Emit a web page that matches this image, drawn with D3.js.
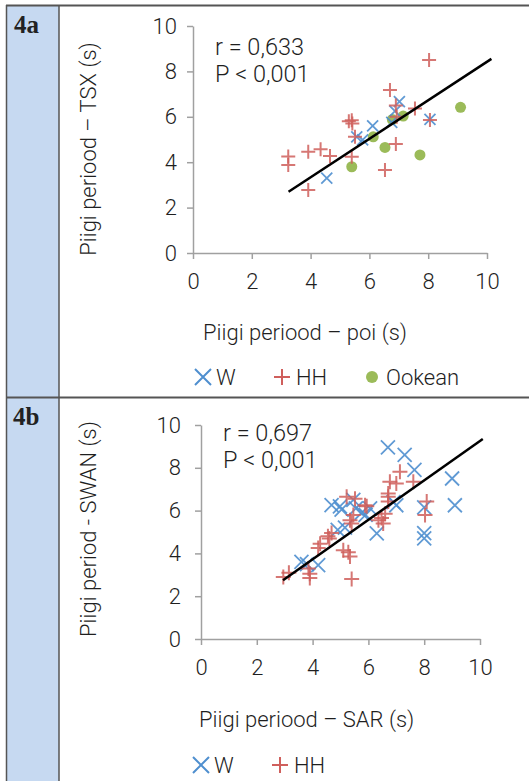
<!DOCTYPE html>
<html lang="et">
<head>
<meta charset="utf-8">
<title>Piigi periood 4a / 4b</title>
<script src="https://cdn.jsdelivr.net/npm/d3@7"></script>
<style>
  body { margin: 0; background: #fff; }
  text { font-family: Roboto, "Noto Sans", sans-serif; font-weight: 300; fill: #1f1f1f; }
  .lbl { font-family: "Liberation Serif", "Times New Roman", serif; font-weight: bold; fill: #222; }
</style>
</head>
<body>
<script>
// ticks on both axes
var ticks = [0, 2, 4, 6, 8, 10];

// 4a: poi vs TSX
var aW = [[4.55, 3.3], [5.57, 5.12], [5.77, 4.98], [6.11, 5.6], [6.76, 5.75],
          [6.87, 6.25], [7.02, 6.67], [8.06, 5.89]];
var aHH = [[3.24, 4.25], [3.24, 3.88], [3.92, 4.46], [3.92, 2.78], [4.34, 4.57],
           [4.66, 4.27], [5.3, 5.8], [5.4, 5.85], [5.42, 5.7], [5.51, 5.12],
           [5.4, 4.24], [6.53, 3.66], [6.7, 7.18], [6.9, 6.5], [6.9, 4.8],
           [6.93, 6.0], [7.55, 6.37], [8.03, 8.5], [8.06, 5.86]];
var aOokean = [[5.4, 3.8], [6.13, 5.12], [6.53, 4.65], [6.78, 5.88], [7.15, 6.03],
               [7.72, 4.32], [9.1, 6.42]];
var aFit = [[3.25, 2.7], [10.15, 8.55]];

// 4b: SAR vs SWAN
var bW = [[3.6, 3.6], [3.8, 3.5], [4.2, 3.45], [4.68, 6.26], [4.9, 5.1],
          [4.98, 6.2], [5.04, 6.05], [5.16, 5.2], [5.46, 6.5], [5.55, 6.1],
          [5.76, 5.9], [5.9, 5.8], [6.06, 6.1], [6.3, 4.94], [6.7, 8.95],
          [6.9, 6.4], [7.0, 6.25], [7.3, 8.6], [7.65, 7.9], [8.0, 6.15],
          [8.0, 4.95], [8.0, 4.7], [9.0, 7.5], [9.1, 6.25]];
var bHH = [[2.95, 2.9], [3.15, 3.1], [3.85, 3.3], [3.9, 3.05], [3.9, 2.85],
           [4.2, 4.25], [4.27, 4.45], [4.55, 4.8], [4.68, 4.95], [4.6, 4.7],
           [5.1, 4.15], [5.28, 4.05], [5.34, 3.85], [5.4, 2.8], [5.22, 6.65],
           [5.52, 6.55], [5.34, 5.55], [5.46, 5.8], [5.4, 5.4], [5.94, 6.2],
           [6.36, 5.55], [6.47, 5.65], [6.53, 5.4], [6.6, 5.85], [6.71, 6.65],
           [6.71, 6.8], [6.71, 6.42], [6.77, 7.35], [7.0, 7.27], [7.13, 7.82],
           [7.61, 7.35], [8.09, 6.42], [8.03, 5.8], [5.88, 6.25]];
var bFit = [[2.94, 2.75], [10.1, 9.35]];

var blue = "#4f8fcf", red = "#cf5f5c", green = "#9bbb59";

var w = 529, h = 781;
var svg = d3.select("body").append("svg").attr("width", w).attr("height", h);

// table frame
svg.append("rect").attr("x", 7).attr("y", 6).attr("width", 52).attr("height", h)
   .attr("fill", "#c6d9f1");
svg.append("line").attr("x1", 6).attr("x2", w).attr("y1", 5.5).attr("y2", 5.5)
   .attr("stroke", "#555").attr("stroke-width", 2);
svg.append("line").attr("x1", 6).attr("x2", w).attr("y1", 397.5).attr("y2", 397.5)
   .attr("stroke", "#555").attr("stroke-width", 2);
svg.append("line").attr("x1", 6.5).attr("x2", 6.5).attr("y1", 5).attr("y2", h)
   .attr("stroke", "#555").attr("stroke-width", 1.5);
svg.append("line").attr("x1", 59).attr("x2", 59).attr("y1", 5).attr("y2", h)
   .attr("stroke", "#555").attr("stroke-width", 1.5);
svg.append("text").attr("class", "lbl").attr("x", 14).attr("y", 33)
   .attr("font-size", "25px").text("4a");
svg.append("text").attr("class", "lbl").attr("x", 13).attr("y", 425)
   .attr("font-size", "25px").text("4b");

function plus(s) { return "M" + (-s) + ",0H" + s + "M0," + (-s) + "V" + s; }
function cross(s) { return "M" + (-s) + "," + (-s) + "L" + s + "," + s + "M" + (-s) + "," + s + "L" + s + "," + (-s); }

function drawPanel(p) {
  var x = d3.scaleLinear().domain([0, 10]).range([p.x0, p.x1]);
  var y = d3.scaleLinear().domain([0, 10]).range([p.y0, p.y1]);
  var g = svg.append("g");

  var xa = g.append("g").attr("transform", "translate(0," + p.y0 + ")")
    .call(d3.axisBottom(x).tickValues(ticks).tickSize(6).tickSizeOuter(0).tickPadding(14));
  var ya = g.append("g").attr("transform", "translate(" + p.x0 + ",0)")
    .call(d3.axisLeft(y).tickValues(ticks).tickSize(6).tickSizeOuter(0).tickPadding(p.ypad));
  [xa, ya].forEach(function(a) {
    a.selectAll("path, line").attr("stroke", "#a0a0a0").attr("stroke-width", 1.5);
    a.selectAll("text").attr("font-size", "22px").attr("font-family", "Roboto")
      .attr("fill", "#1f1f1f");
  });

  g.append("text").attr("x", p.xtx).attr("y", p.xty).attr("font-size", "22px").text(p.xt);
  g.append("text").attr("transform", "translate(" + p.ytx + "," + p.yty + ") rotate(-90)")
    .attr("text-anchor", "middle").attr("font-size", "22px").text(p.yt);

  g.append("text").attr("x", p.rx).attr("y", p.ry).attr("font-size", "23.5px").text(p.r);
  g.append("text").attr("x", p.rx).attr("y", p.ry + 27).attr("font-size", "23.5px").text("P < 0,001");

  if (p.ook) {
    g.selectAll(".ook").data(p.ook).enter().append("circle")
      .attr("cx", function(d) { return x(d[0]); })
      .attr("cy", function(d) { return y(d[1]); })
      .attr("r", 5.5).attr("fill", green);
  }
  g.selectAll(".w").data(p.wpts).enter().append("path")
    .attr("transform", function(d) { return "translate(" + x(d[0]) + "," + y(d[1]) + ")"; })
    .attr("d", cross(p.ms)).attr("fill", "none")
    .attr("stroke", blue).attr("stroke-width", 1.8).attr("opacity", 0.9);
  g.selectAll(".hh").data(p.hh).enter().append("path")
    .attr("transform", function(d) { return "translate(" + x(d[0]) + "," + y(d[1]) + ")"; })
    .attr("d", plus(p.ps))
    .attr("fill", "none").attr("stroke", red).attr("stroke-width", 2).attr("opacity", 0.85);

  g.append("line")
    .attr("x1", x(p.fit[0][0])).attr("y1", y(p.fit[0][1]))
    .attr("x2", x(p.fit[1][0])).attr("y2", y(p.fit[1][1]))
    .attr("stroke", "#000").attr("stroke-width", 2.5);

  // legend
  var ly = p.ly;
  g.append("path").attr("transform", "translate(" + p.lx + "," + ly + ")").attr("d", cross(8))
    .attr("stroke", blue).attr("stroke-width", 2).attr("fill", "none");
  g.append("text").attr("x", p.lx + 13).attr("y", ly + 8).attr("font-size", "22px").text("W");
  g.append("path").attr("transform", "translate(" + (p.lx + 79) + "," + ly + ")").attr("d", plus(8))
    .attr("stroke", red).attr("stroke-width", 2).attr("fill", "none");
  g.append("text").attr("x", p.lx + 93).attr("y", ly + 8).attr("font-size", "22px").text("HH");
  if (p.ook) {
    g.append("circle").attr("cx", p.lx + 169).attr("cy", ly).attr("r", 6).attr("fill", green);
    g.append("text").attr("x", p.lx + 183).attr("y", ly + 8).attr("font-size", "22px").text("Ookean");
  }
}

drawPanel({ x0: 193, x1: 487, y0: 253, y1: 26, ypad: 10,
  wpts: aW, hh: aHH, ook: aOokean, fit: aFit, ms: 5.5, ps: 7,
  xt: "Piigi periood \u2013 poi (s)", xtx: 203, xty: 340,
  yt: "Piigi periood \u2013 TSX (s)", ytx: 96, yty: 149,
  r: "r = 0,633", rx: 215, ry: 55, lx: 203, ly: 377 });

drawPanel({ x0: 201, x1: 480, y0: 639, y1: 425, ypad: 14,
  wpts: bW, hh: bHH, ook: null, fit: bFit, ms: 7, ps: 7.5,
  xt: "Piigi periood \u2013 SAR (s)", xtx: 199, xty: 727,
  yt: "Piigi period - SWAN (s)", ytx: 96, yty: 529,
  r: "r = 0,697", rx: 223, ry: 441, lx: 201, ly: 765 });
</script>
</body>
</html>
